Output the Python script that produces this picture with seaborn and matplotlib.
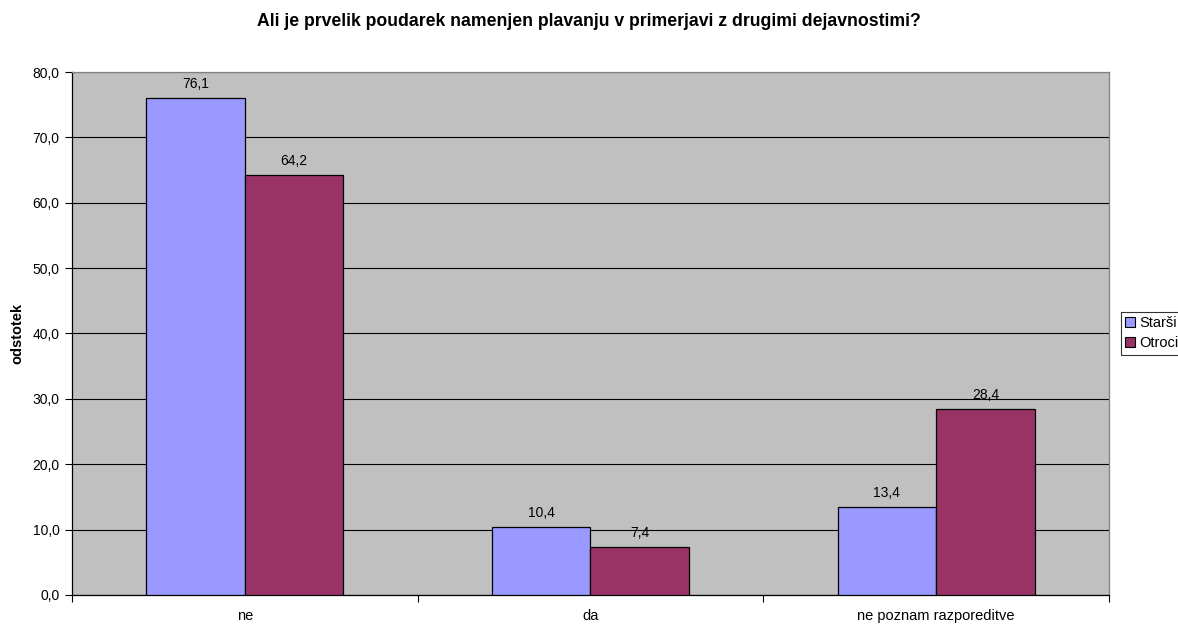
import pandas as pd
import seaborn as sns
import matplotlib.pyplot as plt
from matplotlib.ticker import FixedLocator, FuncFormatter

# Chart data
categories = ['ne', 'da', 'ne poznam razporeditve']
starsi = [76.1, 10.4, 13.4]
otroci = [64.2, 7.4, 28.4]
series_names = ['Starši', 'Otroci']

df = pd.DataFrame({
    'odgovor': categories * 2,
    'skupina': [series_names[0]] * 3 + [series_names[1]] * 3,
    'odstotek': starsi + otroci,
})

sns.set_style('white')
plt.rcParams['font.family'] = ['Liberation Sans', 'DejaVu Sans']
plt.rcParams['text.color'] = 'black'
plt.rcParams['xtick.color'] = 'black'
plt.rcParams['ytick.color'] = 'black'
plt.rcParams['axes.labelcolor'] = 'black'

fig = plt.figure(figsize=(11.78, 6.24), dpi=100)
ax = fig.add_axes([0.0611, 0.0465, 0.8803, 0.8381])

palette = {'Starši': '#9999FF', 'Otroci': '#993366'}
sns.barplot(data=df, x='odgovor', y='odstotek', hue='skupina', order=categories,
            hue_order=series_names, palette=palette, width=0.57, dodge=True,
            edgecolor='black', linewidth=0.9, saturation=1, ax=ax, zorder=3)

ax.set_facecolor('#C0C0C0')
ax.set_ylim(0, 80)
ax.set_xlim(-0.5, 2.5)
ax.set_yticks(range(0, 81, 10))
ax.yaxis.set_major_formatter(FuncFormatter(lambda v, p: f'{v:.1f}'.replace('.', ',')))
ax.yaxis.grid(True, color='black', linewidth=0.8, zorder=0)
ax.set_axisbelow(True)

# category ticks sit on the boundaries, labels in the middle
ax.xaxis.set_major_locator(FixedLocator([-0.5, 0.5, 1.5, 2.5]))
ax.xaxis.set_major_formatter(FuncFormatter(lambda v, p: ''))
ax.xaxis.set_minor_locator(FixedLocator([0, 1, 2]))
ax.set_xticklabels(categories, minor=True)
ax.tick_params(axis='x', which='major', length=5, width=0.8, direction='out', bottom=True)
ax.tick_params(axis='x', which='minor', length=0, labelsize=10.5, pad=10)
ax.tick_params(axis='y', length=5, width=0.8, direction='out', left=True, labelsize=10, pad=4)

for s in ['left', 'bottom']:
    ax.spines[s].set_color('black')
    ax.spines[s].set_linewidth(0.9)
for s in ['top', 'right']:
    ax.spines[s].set_color('#808080')
    ax.spines[s].set_linewidth(0.9)

ax.set_xlabel('')
ax.set_ylabel('odstotek', fontsize=10.5, fontweight='bold', labelpad=6)

for cont in ax.containers:
    ax.bar_label(cont, labels=[f'{v:.1f}'.replace('.', ',') for v in cont.datavalues],
                 padding=5, fontsize=10)

ax.legend_.remove()
handles = [plt.Rectangle((0, 0), 1, 1, facecolor=palette[n], edgecolor='black', linewidth=0.8)
           for n in series_names]
leg = fig.legend(handles, series_names, loc='center left', bbox_to_anchor=(0.9515, 0.466),
                 fontsize=10.5, frameon=True, fancybox=False, edgecolor='black',
                 handlelength=0.65, handleheight=0.65, handletextpad=0.3,
                 borderpad=0.3, labelspacing=0.4, borderaxespad=0)
leg.get_frame().set_linewidth(0.8)

fig.suptitle('Ali je prvelik poudarek namenjen plavanju v primerjavi z drugimi dejavnostimi?',
             x=0.4996, y=0.965, va='center', fontsize=12.7, fontweight='bold')

plt.savefig('out.png', dpi=100)
